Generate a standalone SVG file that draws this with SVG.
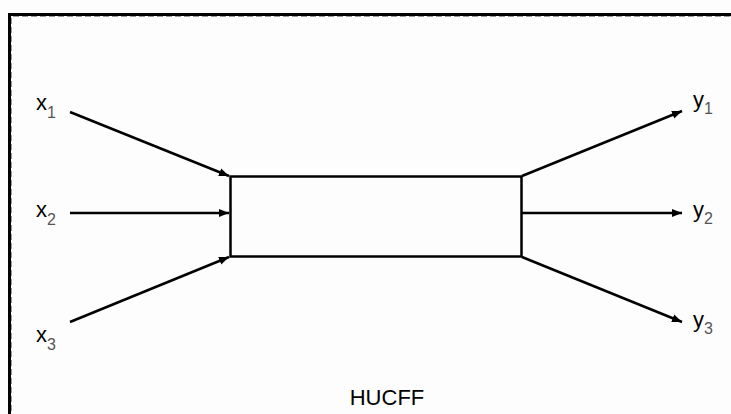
<svg xmlns="http://www.w3.org/2000/svg" width="731" height="414" viewBox="0 0 731 414">
<defs>
<style>
.t{font-family:"Liberation Sans",Arial,sans-serif;font-size:22px;fill:#000}
.s{font-size:16px;fill:#555}
.c{stroke:#000;stroke-width:2.5;fill:none}
</style>
<marker id="ah" viewBox="0 0 10 10" refX="10" refY="5" markerWidth="4" markerHeight="4" orient="auto" markerUnits="strokeWidth">
<path d="M0,1 L10,5 L0,9 z" fill="#000"/>
</marker>
</defs>
<rect width="731" height="414" fill="#fdfdfd"/>
<g id="frame">
<path d="M9.5,420 V14.5 H740" fill="none" stroke="#000" stroke-width="3"/>
<path d="M11.5,420 V16.5 H740" fill="none" stroke="#999" stroke-width="1" stroke-dasharray="6,3"/>
</g>
<g id="box">
<rect x="230.5" y="176.5" width="291" height="80" fill="none" stroke="#000" stroke-width="2.5"/>
</g>
<g id="connectors">
<line class="c" x1="70" y1="112" x2="229" y2="176" marker-end="url(#ah)"/>
<line class="c" x1="70" y1="213" x2="229" y2="213" marker-end="url(#ah)"/>
<line class="c" x1="70" y1="322" x2="229" y2="257" marker-end="url(#ah)"/>
<line class="c" x1="522" y1="176" x2="682" y2="111" marker-end="url(#ah)"/>
<line class="c" x1="522" y1="213" x2="682" y2="213" marker-end="url(#ah)"/>
<line class="c" x1="522" y1="257" x2="682" y2="322" marker-end="url(#ah)"/>
</g>
<g id="x1"><text class="t" x="36" y="110">x<tspan class="s" dy="8">1</tspan></text></g>
<g id="x2"><text class="t" x="36" y="217">x<tspan class="s" dy="8">2</tspan></text></g>
<g id="x3"><text class="t" x="36" y="342">x<tspan class="s" dy="8">3</tspan></text></g>
<g id="y1"><text class="t" x="693" y="107">y<tspan class="s" dy="7">1</tspan></text></g>
<g id="y2"><text class="t" x="693" y="217">y<tspan class="s" dy="7">2</tspan></text></g>
<g id="y3"><text class="t" x="693" y="327">y<tspan class="s" dy="7">3</tspan></text></g>
<g id="label"><text class="t" x="387" y="405" text-anchor="middle">HUCFF</text></g>
</svg>
